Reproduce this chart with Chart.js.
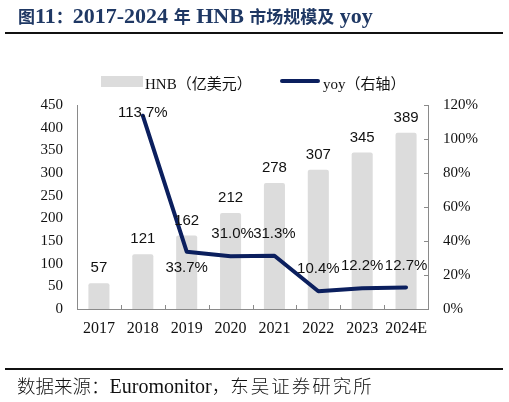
<!DOCTYPE html>
<html><head><meta charset="utf-8">
<script src="https://cdn.jsdelivr.net/npm/chart.js@4.4.1/dist/chart.umd.min.js"></script>
<style>
html,body{margin:0;padding:0;background:#fff;}
#wrap{position:relative;width:509px;height:402px;overflow:hidden;}
canvas{position:absolute;left:0;top:0;}
.title{position:absolute;left:18px;top:0px;height:32px;line-height:32px;font-family:"Liberation Serif","Noto Sans CJK SC",serif;font-weight:bold;font-size:22px;color:#1f3864;white-space:nowrap;}
.title .c{font-family:"Noto Sans CJK SC",sans-serif;font-size:17px;}
.rule{position:absolute;left:5px;width:498px;height:2px;background:#111;}
.src{position:absolute;left:17px;top:372px;height:26px;line-height:26px;font-family:"Liberation Serif","Noto Sans CJK SC",serif;font-size:20px;color:#111;white-space:nowrap;}
.src .c{font-family:"Noto Sans CJK SC",sans-serif;font-size:18.5px;font-weight:300;}
.src .w{letter-spacing:2px;}
.leg{position:absolute;font-family:"Liberation Serif","Noto Sans CJK SC",serif;font-size:15px;color:#111;white-space:nowrap;}
</style></head>
<body><div id="wrap">
<canvas id="c" width="509" height="402"></canvas>
<div class="title"><span class="c">图</span>11<span class="c">：</span>2017-2024 <span class="c">年</span> HNB <span class="c">市场规模及</span> yoy</div>
<div class="rule" style="top:32px"></div>
<div style="position:absolute;left:101px;top:76px;width:42px;height:11px;background:#dcdcdc"></div>
<div class="leg" style="left:145px;top:72px">HNB（亿美元）</div>
<div style="position:absolute;left:280px;top:79px;width:40px;height:4px;background:#0b1f5e;border-radius:2px"></div>
<div class="leg" style="left:323px;top:72px">yoy（右轴）</div>
<div class="rule" style="top:368px"></div>
<div class="src"><span class="c">数据来源：</span>Euromonitor<span class="c">，</span><span class="c w">东吴证券研究所</span></div>
</div>
<script>
const categories = ['2017','2018','2019','2020','2021','2022','2023','2024E'];
const hnbMarket = [57, 121, 162, 212, 278, 307, 345, 389];
const yoyPct = [null, 113.7, 33.7, 31.0, 31.3, 10.4, 12.2, 12.7];
const yoyLabels = ['', '113.7%', '33.7%', '31.0%', '31.3%', '10.4%', '12.2%', '12.7%'];

const AXIS = '#8a8a8a';
const yFont = {family:'"Liberation Serif", serif', size:15};
const xFont = {family:'"Liberation Serif", serif', size:16};

const labelPlugin = {
  id:'labels',
  afterDatasetsDraw(chart){
    const ctx = chart.ctx;
    ctx.save();
    ctx.font = '15px "Liberation Sans", Arial, sans-serif';
    ctx.fillStyle = '#111';
    ctx.textAlign = 'center';
    ctx.textBaseline = 'middle';
    const bars = chart.getDatasetMeta(0).data;
    bars.forEach((b,i)=>{ ctx.fillText(String(hnbMarket[i]), b.x, b.y - 15); });
    const pts = chart.getDatasetMeta(1).data;
    pts.forEach((p,i)=>{
      if (yoyPct[i] == null) return;
      let dy = -22;
      if (i === 1) dy = -3;
      if (i === 2) dy = 16;
      ctx.fillText(yoyLabels[i], p.x + (i===3?2:0), p.y + dy);
    });
    ctx.restore();
  },
  afterDraw(chart){
    const ctx = chart.ctx, a = chart.chartArea;
    ctx.save();
    ctx.strokeStyle = AXIS; ctx.lineWidth = 1;
    const x = chart.scales.x;
    ctx.beginPath();
    for (let i = 1; i < categories.length; i++) {
      const px = Math.round((x.getPixelForValue(i-1) + x.getPixelForValue(i)) / 2) + 0.5;
      ctx.moveTo(px, a.bottom); ctx.lineTo(px, a.bottom - 4);
    }
    const y1 = chart.scales.y1;
    y1.ticks.forEach(t=>{
      const py = Math.round(y1.getPixelForValue(t.value)) + 0.5;
      ctx.moveTo(a.right, py); ctx.lineTo(a.right - 4, py);
    });
    ctx.stroke();
    ctx.restore();
  }
};

new Chart(document.getElementById('c'), {
  data:{
    labels: categories,
    datasets:[
      {type:'bar', label:'HNB（亿美元）', data:hnbMarket, backgroundColor:'#dcdcdc', yAxisID:'y',
       categoryPercentage:1, barPercentage:0.48, borderRadius:{topLeft:2,topRight:2}, order:2},
      {type:'line', label:'yoy（右轴）', data:yoyPct, borderColor:'#0b1f5e', borderWidth:4, yAxisID:'y1',
       pointRadius:0, tension:0, spanGaps:false, borderCapStyle:'round', borderJoinStyle:'round', order:1}
    ]
  },
  options:{
    responsive:false, animation:false, devicePixelRatio:1,
    layout:{padding:{top:105, left:0, right:0, bottom:0}},
    plugins:{legend:{display:false}, tooltip:{enabled:false}, title:{display:false}},
    scales:{
      x:{offset:true, grid:{display:false, drawTicks:false}, border:{display:true, color:AXIS},
         ticks:{font:xFont, color:'#111', padding:10, maxRotation:0, autoSkip:false},
         afterFit(s){ s.height = 93; }},
      y:{position:'left', min:0, max:450, grid:{display:false, drawTicks:false}, border:{display:true, color:AXIS},
         ticks:{stepSize:50, font:yFont, color:'#111', padding:14},
         afterFit(s){ s.width = 77; }},
      y1:{position:'right', min:0, max:120, grid:{display:false, drawTicks:false}, border:{display:true, color:AXIS},
         ticks:{stepSize:20, font:yFont, color:'#111', padding:15, callback:v=>v+'%'},
         afterFit(s){ s.width = 81; }}
    }
  },
  plugins:[labelPlugin]
});
</script>
</body></html>
